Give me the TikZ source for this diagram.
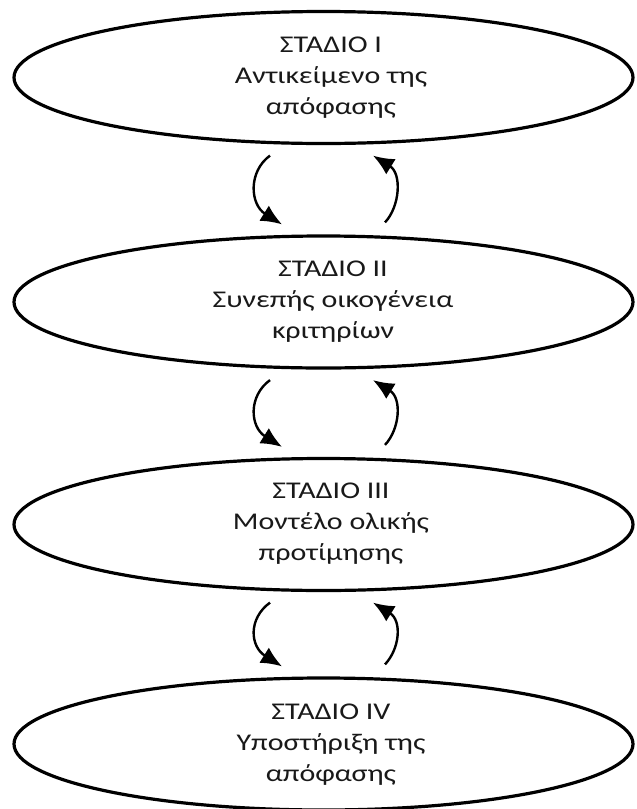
\documentclass[tikz,border=0pt]{standalone}
\usepackage{fontspec}
\setmainfont{Carlito}[FakeStretch=1.25]
\usetikzlibrary{shapes.geometric,arrows.meta,calc}
\tikzset{
  stage/.style={draw=black, line width=3.2pt, ellipse, minimum width=619pt, minimum height=132pt, inner sep=0pt},
  stagetext/.style={align=center, font=\fontsize{24}{31}\selectfont, text=black!90},
  flow/.style={line width=2.4pt, -{Latex[length=21pt,width=18pt]}}
}
\begin{document}
\begin{tikzpicture}[x=1pt,y=-1pt]
\useasboundingbox (0,0) rectangle (637,809);
\fill[white] (0,0) rectangle (637,809);
\node[stage] (e1) at (323.5,77.5) {};
\node[stage] (e2) at (323.5,302) {};
\node[stage] (e3) at (323.5,524.5) {};
\node[stage] (e4) at (323.5,744) {};
\node[stagetext] (t1) at (331,78) {ΣΤΑΔΙΟ I\\Αντικείμενο της\\απόφασης};
\node[stagetext] (t2) at (333,302) {ΣΤΑΔΙΟ II\\Συνεπής οικογένεια\\κριτηρίων};
\node[stagetext] (t3) at (331,524) {ΣΤΑΔΙΟ III\\Μοντέλο ολικής\\προτίμησης};
\node[stagetext] (t4) at (331,745) {ΣΤΑΔΙΟ IV\\Υποστήριξη της\\απόφασης};
\foreach \a/\b in {1/2,2/3,3/4}{
  \coordinate (ls\a) at ($(e\a.south)+(-53.5,10.5)$);
  \coordinate (le\a) at ($(e\b.north)+(-41.5,-10)$);
  \coordinate (rs\a) at ($(e\b.north)+(61.5,-12)$);
  \coordinate (re\a) at ($(e\a.south)+(49.5,10.5)$);
  \draw[flow] (ls\a) .. controls ($(ls\a)+(-22,16)$) and ($(le\a)+(-32,-20)$) .. (le\a);
  \draw[flow] (rs\a) .. controls ($(rs\a)+(15,-16)$) and ($(re\a)+(29,18)$) .. (re\a);
}
\end{tikzpicture}
\end{document}
